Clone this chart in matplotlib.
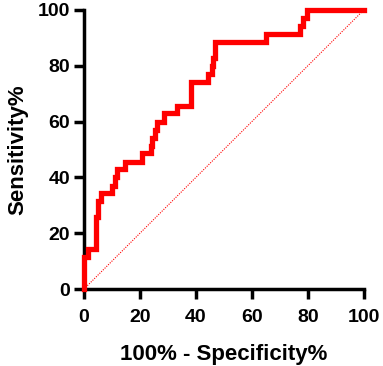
import matplotlib
matplotlib.use("Agg")
import matplotlib.pyplot as plt

plt.rcParams['font.family'] = ['Liberation Sans', 'DejaVu Sans']
plt.rcParams['font.weight'] = 'bold'

# ROC corner points (top-left of each step): 100% - specificity, sensitivity
fpr = [0, 0, 1.5, 4.5, 5.1, 6.0, 9.9, 11.0, 11.7, 14.6, 20.6, 23.8, 24.5, 25.4,
       26.2, 28.6, 33.3, 38.1, 44.4, 45.6, 46.2, 47.0, 64.9, 77.1, 78.3, 79.8, 100]
tpr = [0, 11.4, 14.3, 25.7, 31.4, 34.3, 37.1, 40.0, 42.9, 45.7, 48.6, 51.4, 54.3, 57.1,
       60.0, 62.9, 65.7, 74.3, 77.1, 80.0, 82.9, 88.6, 91.4, 94.3, 97.1, 100, 100]
ticks = [0, 20, 40, 60, 80, 100]

fig = plt.figure(figsize=(3.83, 3.66), dpi=100)
ax = fig.add_axes([0.219, 0.210, 0.731, 0.763])

ax.plot([0, 100], [0, 100], color='red', lw=0.8, ls=(0, (1, 1.2)))
ax.step(fpr, tpr, where='post', color='#ff0000', lw=3.8, clip_on=False,
        solid_joinstyle='miter', zorder=3)

ax.set_xlim(0, 100)
ax.set_ylim(0, 100)
ax.set_xticks(ticks)
ax.set_yticks(ticks)
ax.spines['top'].set_visible(False)
ax.spines['right'].set_visible(False)
for s in ['left', 'bottom']:
    ax.spines[s].set_linewidth(2.5)
ax.tick_params(width=2.5, length=7, labelsize=14)
ax.tick_params(axis='x', pad=7)
ax.tick_params(axis='y', pad=3)
for lab in ax.get_xticklabels() + ax.get_yticklabels():
    lab.set_fontweight('bold')

ax.set_xlabel('100% - Specificity%', fontsize=16, fontweight='bold', labelpad=13)
ax.set_ylabel('Sensitivity%', fontsize=16, fontweight='bold', labelpad=7)

fig.savefig('out.png', dpi=100)
